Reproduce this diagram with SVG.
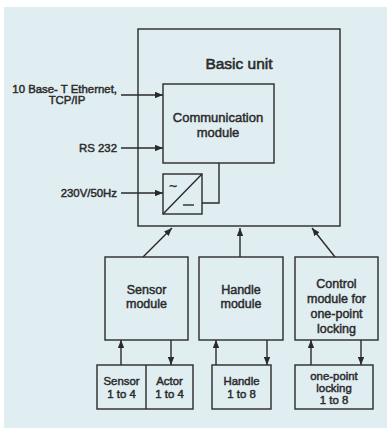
<svg xmlns="http://www.w3.org/2000/svg" width="387" height="428" viewBox="0 0 387 428">
<style>
.b{fill:none;stroke:#2a2a2a;stroke-width:1.4}
.c{fill:none;stroke:#2a2a2a;stroke-width:1.4}
text{font-family:"Liberation Sans",Arial,sans-serif;font-size:12.5px;fill:#2a2a2a;stroke:#2a2a2a;stroke-width:0.45}
.m{text-anchor:middle}
.e{text-anchor:end}
.t{font-size:15.5px;stroke-width:0.55}
.s{font-size:11.4px}
.cm{font-size:13px}
</style>
<defs>
<marker id="ah" viewBox="0 0 10 8" refX="10" refY="4" markerWidth="8" markerHeight="6.4" markerUnits="userSpaceOnUse" orient="auto">
<path d="M0,0 L10,4 L0,8 Z" fill="#2a2a2a"/>
</marker>
</defs>
<rect x="4" y="7" width="384" height="421" fill="#e0edf1"/>
<g id="basic-unit">
<rect class="b" x="138" y="29" width="202" height="197"/>
<text class="m t" x="239" y="69">Basic unit</text>
</g>
<g id="comm-module">
<rect class="b" x="163" y="84" width="111" height="79"/>
<text class="m cm" x="218" y="122">Communication</text>
<text class="m cm" x="218" y="137">module</text>
</g>
<g id="power-supply">
<rect class="b" x="163" y="174" width="39" height="40"/>
<line class="b" x1="163" y1="214" x2="202" y2="174"/>
<text x="169" y="191" style="font-size:14px;stroke-width:0.3">~</text>
<line class="b" x1="183" y1="205" x2="194" y2="205"/>
</g>
<g id="in-ethernet">
<text class="e s" x="117" y="93">10 Base- T Ethernet,</text>
<text class="m s" x="67" y="104">TCP/IP</text>
</g>
<g id="in-rs232"><text class="e s" x="117" y="152">RS 232</text></g>
<g id="in-power"><text class="e s" x="117" y="197">230V/50Hz</text></g>
<g id="sensor-module">
<rect class="b" x="105" y="257" width="83" height="83"/>
<text class="m" x="146.5" y="294">Sensor</text>
<text class="m" x="146.5" y="308">module</text>
</g>
<g id="handle-module">
<rect class="b" x="199" y="257" width="84" height="83"/>
<text class="m" x="241" y="294">Handle</text>
<text class="m" x="241" y="308">module</text>
</g>
<g id="control-module">
<rect class="b" x="295" y="257" width="83" height="83"/>
<text class="m" x="336.5" y="288">Control</text>
<text class="m" x="336.5" y="303">module for</text>
<text class="m" x="336.5" y="318">one-point</text>
<text class="m" x="336.5" y="333">locking</text>
</g>
<g id="sensor-actor">
<rect class="b" x="97" y="365" width="96" height="44"/>
<line class="b" x1="146" y1="365" x2="146" y2="409"/>
<text class="m s" x="121.5" y="385">Sensor</text>
<text class="m s" x="121.5" y="398">1 to 4</text>
<text class="m s" x="169.5" y="385">Actor</text>
<text class="m s" x="169.5" y="398">1 to 4</text>
</g>
<g id="handles">
<rect class="b" x="212" y="365" width="59" height="44"/>
<text class="m s" x="241.5" y="385">Handle</text>
<text class="m s" x="241.5" y="398">1 to 8</text>
</g>
<g id="locking">
<rect class="b" x="295" y="365" width="78" height="44"/>
<text class="m s" x="334" y="380">one-point</text>
<text class="m s" x="334" y="392">locking</text>
<text class="m s" x="334" y="404">1 to 8</text>
</g>
<g id="connectors">
<line class="c" x1="121" y1="95" x2="163" y2="95" marker-end="url(#ah)"/>
<line class="c" x1="121" y1="148" x2="163" y2="148" marker-end="url(#ah)"/>
<line class="c" x1="121" y1="193" x2="163" y2="193" marker-end="url(#ah)"/>
<polyline class="c" points="219,163 219,203 202,203"/>
<line class="c" x1="143" y1="257" x2="172" y2="228" marker-end="url(#ah)"/>
<line class="c" x1="240" y1="257" x2="240" y2="228" marker-end="url(#ah)"/>
<line class="c" x1="335" y1="257" x2="312" y2="228" marker-end="url(#ah)"/>
<line class="c" x1="121" y1="365" x2="121" y2="340" marker-end="url(#ah)"/>
<line class="c" x1="171" y1="340" x2="171" y2="365" marker-end="url(#ah)"/>
<line class="c" x1="216" y1="365" x2="216" y2="340" marker-end="url(#ah)"/>
<line class="c" x1="267" y1="340" x2="267" y2="365" marker-end="url(#ah)"/>
<line class="c" x1="311" y1="365" x2="311" y2="340" marker-end="url(#ah)"/>
<line class="c" x1="361" y1="340" x2="361" y2="365" marker-end="url(#ah)"/>
</g>
</svg>
